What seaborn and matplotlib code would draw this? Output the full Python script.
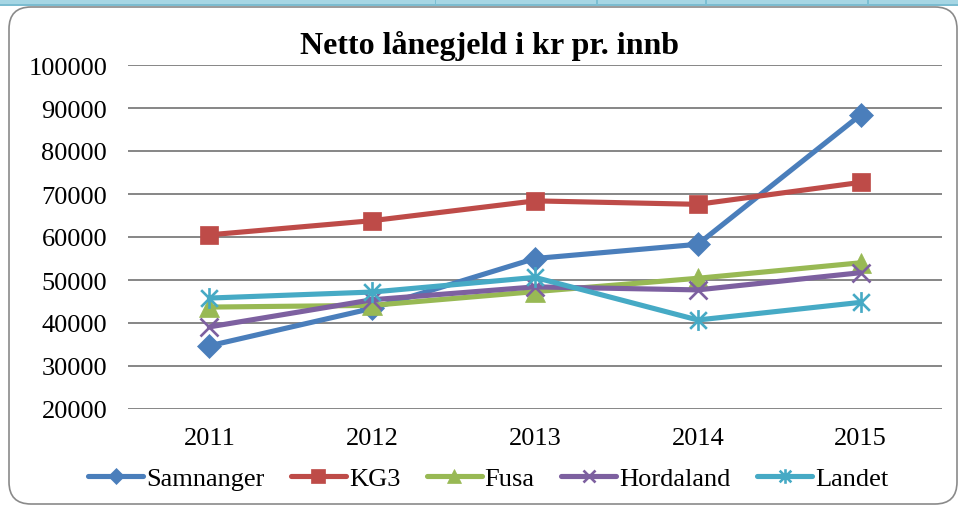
import numpy as np
import pandas as pd
import matplotlib.pyplot as plt
import seaborn as sns
from matplotlib.path import Path
from matplotlib.patches import FancyBboxPatch, Rectangle

# --- DATA ---
years = ["2011", "2012", "2013", "2014", "2015"]
series_names = ["Samnanger", "KG3", "Fusa", "Hordaland", "Landet"]
samnanger = [34700, 43400, 55000, 58300, 88400]
kg3 = [60500, 63800, 68400, 67600, 72700]
fusa = [43700, 44100, 47300, 50400, 54000]
hordaland = [39100, 45400, 48400, 47700, 51700]
landet = [45800, 47200, 50600, 40700, 44800]
y_ticks = [20000, 30000, 40000, 50000, 60000, 70000, 80000, 90000, 100000]

df = pd.DataFrame({
    "x": list(range(len(years))) * 5,
    "value": samnanger + kg3 + fusa + hordaland + landet,
    "series": np.repeat(series_names, len(years)),
})

# --- STYLE ---
colors = ["#4A7EBB", "#BE4B48", "#98B954", "#7D60A0", "#46AAC5"]
star = Path([(-1, -1), (1, 1), (-1, 1), (1, -1), (0, -1.25), (0, 1.25)],
            [Path.MOVETO, Path.LINETO, Path.MOVETO, Path.LINETO, Path.MOVETO, Path.LINETO])
markers = ["D", "s", "^", "x", star]
msizes = [12, 13.5, 14, 13, 15]

sns.set_style("white")
plt.rcParams["font.family"] = ["Liberation Serif", "DejaVu Serif"]
plt.rcParams["text.color"] = "black"
plt.rcParams["xtick.color"] = "black"
plt.rcParams["ytick.color"] = "black"

fig = plt.figure(figsize=(9.58, 5.06), dpi=100)
ax = fig.add_axes([128 / 958, 1 - 410 / 506, (942 - 128) / 958, (410 - 66) / 506])

for name, col, mk, ms in zip(series_names, colors, markers, msizes):
    sub = df[df["series"] == name]
    sns.lineplot(data=sub, x="x", y="value", ax=ax, color=col, linewidth=3.7,
                 marker=mk, markersize=ms, markeredgecolor=col, markerfacecolor=col,
                 markeredgewidth=1.9 if mk in ("x",) or mk is star else 0.5,
                 label=name, legend=False)

ax.set_xlim(-0.5, len(years) - 0.5)
ax.set_ylim(y_ticks[0], y_ticks[-1])
ax.set_yticks(y_ticks)
ax.set_xticks(range(len(years)))
ax.set_xticklabels(years)
ax.set_xlabel("")
ax.set_ylabel("")
ax.yaxis.grid(True, color="#868686", linewidth=1.4)
ax.set_axisbelow(True)
for s in ax.spines.values():
    s.set_visible(False)
ax.tick_params(axis="y", length=0, pad=15, labelsize=19, labelcolor="black")
ax.tick_params(axis="x", length=0, pad=13, labelsize=19, labelcolor="black")

fig.text(490 / 958, 1 - 46 / 506, "Netto lånegjeld i kr pr. innb", ha="center", va="center",
         fontsize=23, fontweight="bold", color="black")

handles, labels = ax.get_legend_handles_labels()
fig.legend(handles, labels, loc="center", bbox_to_anchor=(488 / 958, 1 - 479 / 506), ncol=5,
           frameon=False, fontsize=19, handlelength=2.1, handletextpad=0.1,
           columnspacing=1.0, borderpad=0, numpoints=1, markerscale=0.7,
           labelcolor="black")

# frame and strip from the screenshot
inch = fig.dpi_scale_trans
fig.patches.append(FancyBboxPatch((9 / 100, 1 / 100), (957 - 9) / 100, (498 - 1) / 100,
                                  boxstyle="round,pad=0,rounding_size=0.22", transform=inch,
                                  facecolor="none", edgecolor="#8A8A8A", linewidth=1.2))
fig.patches.append(Rectangle((0, 500 / 100), 9.58, 0.06, transform=inch,
                             facecolor="#A6D6E4", edgecolor="none"))
fig.patches.append(Rectangle((0, 499.5 / 100), 9.58, 0.012, transform=inch,
                             facecolor="#7BBCD0", edgecolor="none"))
for xd in [435, 596, 705, 867]:
    fig.patches.append(Rectangle((xd / 100, 500 / 100), 0.015, 0.06, transform=inch,
                                 facecolor="#7BBFD3", edgecolor="none"))

fig.savefig("out.png", dpi=100)
